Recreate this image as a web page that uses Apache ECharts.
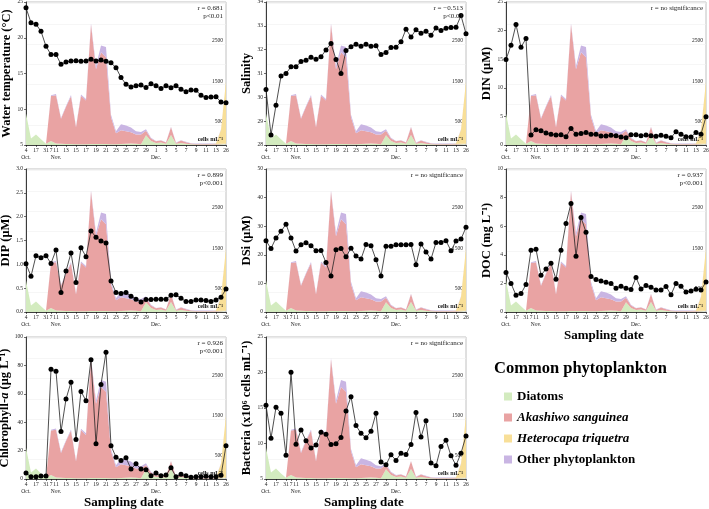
<!DOCTYPE html>
<html>
<head>
<meta charset="utf-8">
<script src="https://cdn.jsdelivr.net/npm/echarts@6/dist/echarts.min.js"></script>
<style>
  html, body { margin: 0; padding: 0; background: #fff; }
  #main { width: 709px; height: 509px; }
</style>
</head>
<body>
<div id="main"></div>
<script>
// sampling dates (day of month), Oct 4 .. Dec 26
const days = ['4','10','17','24','31','7','11','12','13','14','15','16','17','18','19','20','21','22','23','24',
  '25','26','27','28','29','30','1','2','3','4','5','6','7','8','9','10','11','12','13','19','26'];
const shownDays = [0,2,4,5,6,8,10,12,14,16,18,20,22,24,26,28,30,32,34,36,38,39,40];
const monthAt = {0: 'Oct.', 6: 'Nov.', 26: 'Dec.'};

// phytoplankton (cells mL-1)
const diatoms = [780,160,260,140,30,100,40,30,25,25,20,20,20,25,25,25,25,20,20,25,30,35,30,20,240,100,50,60,30,250,30,50,30,20,15,15,15,15,15,20,20];
const akashiwo = [0,0,0,0,0,1110,1190,620,920,1180,420,1200,1080,2960,1850,2270,2150,670,270,340,310,280,230,240,110,60,40,50,30,190,20,60,40,15,10,10,10,10,10,10,10];
const heterocapa = [0,0,0,0,0,0,0,0,0,0,0,0,0,0,0,0,0,0,0,0,0,0,0,0,0,0,0,0,0,0,0,0,0,0,0,0,0,0,10,350,1550];
const otherPhyto = [0,0,0,0,0,20,30,20,20,30,20,30,40,30,80,170,250,60,50,150,140,120,80,60,40,20,10,10,10,10,10,10,10,10,10,10,10,10,10,10,10];

// environmental variables
const waterTemp = [24.2,22.1,21.9,20.9,18.8,17.65,17.65,16.3,16.6,16.75,16.8,16.7,16.75,17.0,16.75,16.9,16.7,16.5,15.8,14.45,13.5,13.1,13.3,13.4,13.05,13.55,13.3,12.9,13.3,13.0,13.3,12.8,12.45,12.7,12.65,11.95,11.65,11.7,11.75,11.0,10.9];
const salinity = [30.33,28.42,29.67,30.89,31.0,31.28,31.28,31.5,31.56,31.68,31.6,31.7,31.99,32.26,31.59,31.0,31.96,32.12,32.23,32.14,32.23,32.14,32.16,31.8,31.88,32.09,32.1,32.33,32.86,32.53,32.84,32.69,32.77,32.6,32.91,32.8,32.9,32.93,32.94,33.43,32.67];
const din = [14.94,17.44,21.05,17.1,18.6,1.74,2.67,2.5,2.1,1.9,1.74,1.8,1.45,2.9,1.9,2.0,2.2,1.9,1.86,1.57,1.57,1.69,1.63,1.4,1.28,1.8,1.8,1.63,1.74,1.63,1.51,1.69,1.51,1.28,2.33,1.9,1.45,1.4,2.2,1.9,4.94];
const dip = [1.01,0.75,1.18,1.14,1.18,1.02,1.3,0.41,0.86,1.24,0.62,1.35,1.16,1.7,1.57,1.49,1.45,0.65,0.41,0.39,0.41,0.33,0.27,0.21,0.26,0.26,0.27,0.27,0.27,0.35,0.36,0.29,0.22,0.22,0.25,0.25,0.24,0.22,0.25,0.31,0.48];
const dsi = [24.9,22.2,25.9,28.2,30.7,25.9,21.3,23.5,24.2,23.2,21.4,21.5,17.3,12.6,21.8,22.2,19.3,22.3,19.6,18.5,23.6,23.2,18.3,12.6,23.0,23.0,23.5,23.5,23.5,23.6,16.5,23.8,21.0,18.5,24.3,24.3,24.9,21.4,24.8,25.5,29.6];
const doc = [2.76,2.0,1.17,1.29,1.92,4.32,4.39,2.57,3.01,3.41,2.29,4.32,6.19,7.59,3.9,6.61,5.58,2.48,2.27,2.17,2.08,1.99,1.66,1.8,1.66,1.57,2.41,1.61,1.85,1.73,1.54,1.54,1.78,1.21,2.0,1.8,1.4,1.47,1.59,1.54,2.1];
const chla = [4.2,1.6,1.6,2.1,2.1,77.3,75.9,33.4,56.3,68.2,27.8,61.7,55.1,83.9,24.8,66.6,89.3,23.4,15.4,13.1,15.0,7.0,10.7,7.0,6.5,2.3,4.2,2.3,2.8,7.9,1.6,3.3,2.3,1.2,1.6,1.6,1.9,1.6,1.6,2.6,23.4];
const bacteria = [15.37,10.75,15.1,14.25,8.36,20.05,9.9,11.9,10.4,9.35,9.8,11.6,11.3,9.86,9.95,10.84,14.58,16.6,12.52,11.45,10.8,11.73,14.25,7.38,7.0,8.41,7.62,8.64,8.46,9.86,14.35,10.9,13.22,7.24,6.87,9.58,10.47,8.27,6.92,8.64,11.07];

const phytoNames = ['Diatoms', 'Akashiwo sanguinea', 'Heterocapa triquetra', 'Other phytoplankton'];
const phytoData = [diatoms, akashiwo, heterocapa, otherPhyto];
const phytoColors = ['#d3ebbf', '#e9a3a3', '#f8df98', '#c9b5e3'];

const panels = [
  {name: 'Water temperature (°C)', data: waterTemp, min: 5, max: 25, step: 5, r: ['r = 0.681', 'p<0.01']},
  {name: 'Salinity', data: salinity, min: 28, max: 34, step: 1, r: ['r = \u22120.513', 'p<0.01']},
  {name: 'DIN (μM)', data: din, min: 0, max: 25, step: 5, r: ['r = no significance']},
  {name: 'DIP (μM)', data: dip, min: 0, max: 3, step: 0.5, dec: 1, r: ['r = 0.899', 'p<0.001']},
  {name: 'DSi (μM)', data: dsi, min: 0, max: 50, step: 10, r: ['r = no significance']},
  {name: 'DOC (mg L⁻¹)', data: doc, min: 0, max: 10, step: 2, r: ['r = 0.937', 'p<0.001'], xname: true},
  {name: '{t|Chlorophyll-}{i|a}{t| (μg L⁻¹)}', data: chla, min: 0, max: 100, step: 20, r: ['r = 0.926', 'p<0.001'], xname: true},
  {name: 'Bacteria (x10⁶ cells mL⁻¹)', data: bacteria, min: 5, max: 25, step: 5, r: ['r = no significance'], xname: true}
];

const colX = [26, 266, 506];
const rowY = [[2, 143], [169, 143], [337, 142]];
const W = 200;
const FONT = '"Liberation Serif", "Times New Roman", serif';
const NAME_SIZE = 12.5;

let grids = [], xAxes = [], yAxes = [], series = [], graphics = [];

panels.forEach(function (p, i) {
  const left = colX[i % 3], top = rowY[Math.floor(i / 3)][0], h = rowY[Math.floor(i / 3)][1];
  const rightEdge = 709 - (left + W);
  grids.push({left: left, top: top, width: W, height: h, show: true, borderColor: '#b0b0b0', borderWidth: 0.8, outerBoundsMode: 'none'});
  xAxes.push({
    type: 'category', gridIndex: i, data: days, boundaryGap: false,
    axisLine: {lineStyle: {color: '#111', width: 0.8}},
    axisTick: {length: 2, lineStyle: {color: '#111', width: 0.6}},
    axisLabel: {
      interval: function (idx) { return shownDays.indexOf(idx) >= 0; },
      formatter: function (v, idx) { return monthAt[idx] ? v + '\n' + monthAt[idx] : v; },
      showMinLabel: true, showMaxLabel: true, hideOverlap: false,
      fontSize: 5.5, fontFamily: FONT, color: '#222', margin: 2, lineHeight: 7
    }
  });
  yAxes.push({
    type: 'value', gridIndex: i, min: p.min, max: p.max, interval: p.step, position: 'left',
    name: p.name, nameLocation: 'middle', nameGap: 13, nameRotate: 90,
    nameTextStyle: {fontSize: NAME_SIZE, fontWeight: 'bold', fontFamily: FONT, color: '#000',
      rich: {t: {fontSize: NAME_SIZE, fontWeight: 'bold', fontFamily: FONT},
             i: {fontSize: NAME_SIZE, fontWeight: 'bold', fontStyle: 'italic', fontFamily: FONT}}},
    axisLine: {show: true, lineStyle: {color: '#111', width: 0.8}},
    axisTick: {show: true, length: 2, lineStyle: {width: 0.6}},
    splitLine: {show: false},
    axisLabel: {fontSize: 5.5, fontFamily: FONT, color: '#222', margin: 3,
      formatter: function (v) { return p.dec ? v.toFixed(p.dec) : v; }}
  });
  yAxes.push({
    type: 'value', gridIndex: i, min: 0, max: 3540, interval: 500, position: 'right',
    axisLine: {show: false}, axisTick: {show: false},
    splitLine: {show: true, lineStyle: {color: '#f0f0f0', width: 0.6}},
    axisLabel: {inside: true, fontSize: 5.5, fontFamily: FONT, color: '#222', margin: 3, verticalAlign: 'bottom',
      formatter: function (v) { return (v === 500 || v === 1500 || v === 2500) ? v : ''; }}
  });
  phytoData.forEach(function (d, k) {
    series.push({
      name: phytoNames[k], type: 'line', xAxisIndex: i, yAxisIndex: 2 * i + 1, stack: 'phy' + i,
      data: d, symbol: 'none', lineStyle: {width: 0}, color: phytoColors[k],
      areaStyle: {color: phytoColors[k], opacity: 1}, silent: true, z: 1
    });
  });
  series.push({
    name: 'env' + i, type: 'line', xAxisIndex: i, yAxisIndex: 2 * i, data: p.data,
    symbol: 'circle', symbolSize: 5, showAllSymbol: true, itemStyle: {color: '#000'},
    lineStyle: {color: '#222', width: 0.8}, z: 5
  });
  p.r.forEach(function (txt, j) {
    graphics.push({type: 'text', right: rightEdge + 3, top: top + 3 + j * 8, z: 10,
      style: {text: txt, fill: '#222', font: '7px ' + FONT}});
  });
  graphics.push({type: 'text', right: rightEdge + 3, top: top + h - 9, z: 10,
    style: {text: 'cells mL⁻¹', fill: '#111', font: 'bold 6px ' + FONT}});
  if (p.xname) {
    graphics.push({type: 'text', left: left + W / 2 - 42, top: top + h + 17, z: 10,
      style: {text: 'Sampling date', fill: '#000', font: 'bold 13px ' + FONT}});
  }
});

graphics.push({type: 'text', left: 494, top: 360, style: {text: 'Common phytoplankton', fill: '#000', font: 'bold 16.5px ' + FONT}});

const chart = echarts.init(document.getElementById('main'));
chart.setOption({
  animation: false,
  backgroundColor: '#fff',
  textStyle: {fontFamily: FONT},
  grid: grids,
  xAxis: xAxes,
  yAxis: yAxes,
  series: series,
  graphic: graphics,
  legend: {
    data: phytoNames, orient: 'vertical', left: 499, top: 385, itemWidth: 8, itemHeight: 8, itemGap: 8,
    icon: 'rect', selectedMode: false,
    textStyle: {fontSize: 13, fontWeight: 'bold', fontFamily: FONT, color: '#000', lineHeight: 13,
      rich: {i: {fontSize: 13, fontWeight: 'bold', fontStyle: 'italic', fontFamily: FONT, color: '#000'}}},
    formatter: function (n) { return (n === 'Akashiwo sanguinea' || n === 'Heterocapa triquetra') ? '{i|' + n + '}' : n; }
  }
});
</script>
</body>
</html>
